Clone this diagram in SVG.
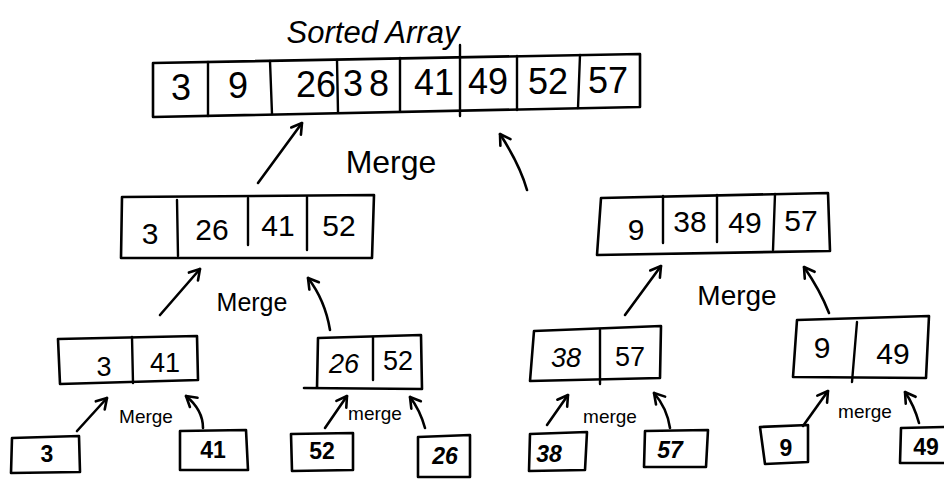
<svg xmlns="http://www.w3.org/2000/svg" width="944" height="481" viewBox="0 0 944 481">
<style>
.bx{fill:none;stroke:#000;stroke-width:2.6;stroke-linejoin:round;stroke-linecap:round}
.dv{stroke:#000;stroke-width:2.4;stroke-linecap:round}
text{font-family:"Liberation Sans",Arial,sans-serif;fill:#000;text-anchor:middle}
.n1{font-size:36px}
.n2{font-size:30px}
.n3{font-size:27px}
.n4{font-size:23px;font-weight:bold}
.m1{font-size:32px}
.m2{font-size:28px}
.m3{font-size:19px}
.cn{fill:none;stroke:#000;stroke-width:2.6;stroke-linecap:round;marker-end:url(#ah)}
</style>
<defs>
<marker id="ah" markerUnits="userSpaceOnUse" markerWidth="16" markerHeight="16" refX="12" refY="7" orient="auto" viewBox="0 0 16 14">
<path d="M2,1 L12,7 L2,13" fill="none" stroke="#000" stroke-width="2.6" stroke-linecap="round" stroke-linejoin="round"/>
</marker>
</defs>
<rect width="944" height="481" fill="#fff"/>
<text x="373" y="43" style="font-size:31px;font-style:italic">Sorted  Array</text>
<g id="top">
<path class="bx" d="M153,63 L640,54 L640,107 L153,117 Z"/>
<line class="dv" x1="208" y1="62" x2="208" y2="116"/>
<line class="dv" x1="270" y1="61" x2="272" y2="114"/>
<line class="dv" x1="337" y1="60" x2="338" y2="112"/>
<line class="dv" x1="400" y1="58" x2="400" y2="111"/>
<line class="dv" x1="460" y1="45" x2="460" y2="116"/>
<line class="dv" x1="517" y1="56" x2="517" y2="110"/>
<line class="dv" x1="580" y1="55" x2="578" y2="108"/>
<text class="n1" x="181" y="100">3</text>
<text class="n1" x="238" y="98">9</text>
<text class="n1" x="316" y="97">26</text>
<text class="n1" x="369" y="96" style="letter-spacing:6px">38</text>
<text class="n1" x="434" y="95">41</text>
<text class="n1" x="488" y="94">49</text>
<text class="n1" x="548" y="94">52</text>
<text class="n1" x="608" y="93">57</text>
</g>
<g id="l1a">
<path class="bx" d="M122,197 L374,195 L372,258 L121,258 Z"/>
<line class="dv" x1="177" y1="200" x2="178" y2="256"/>
<line class="dv" x1="248" y1="198" x2="248" y2="245"/>
<line class="dv" x1="307" y1="197" x2="307" y2="250"/>
<text class="n2" x="150" y="244">3</text>
<text class="n2" x="212" y="240">26</text>
<text class="n2" x="278" y="236">41</text>
<text class="n2" x="339" y="236">52</text>
</g>
<g id="l1b">
<path class="bx" d="M601,198 L828,193 L830,251 L597,255 Z"/>
<line class="dv" x1="663" y1="196" x2="663" y2="243"/>
<line class="dv" x1="717" y1="195" x2="717" y2="242"/>
<line class="dv" x1="775" y1="194" x2="773" y2="250"/>
<text class="n2" x="636" y="240">9</text>
<text class="n2" x="690" y="232">38</text>
<text class="n2" x="745" y="233">49</text>
<text class="n2" x="801" y="231">57</text>
</g>
<g id="l2a">
<path class="bx" d="M58,339 L197,336 L198,380 L60,384 Z"/>
<line class="dv" x1="132" y1="337" x2="133" y2="383"/>
<text class="n3" x="104" y="376">3</text>
<text class="n3" x="165" y="372">41</text>
</g>
<g id="l2b">
<path class="bx" d="M318,338 L421,335 L422,389 L304,388 M318,338 L317,388"/>
<line class="dv" x1="373" y1="337" x2="373" y2="380"/>
<text class="n3" x="344" y="373" style="font-style:italic">26</text>
<text class="n3" x="398" y="370">52</text>
</g>
<g id="l2c">
<path class="bx" d="M534,331 L661,326 L660,378 L530,381 Z"/>
<line class="dv" x1="600" y1="330" x2="600" y2="384"/>
<text class="n3" x="566" y="367" style="font-style:italic">38</text>
<text class="n3" x="630" y="366">57</text>
</g>
<g id="l2d">
<path class="bx" d="M797,320 L929,316 L926,378 L793,377 Z"/>
<line class="dv" x1="857" y1="322" x2="852" y2="382"/>
<text class="n2" x="822" y="358">9</text>
<text class="n2" x="893" y="364">49</text>
</g>
<g id="lf1">
<path class="bx" d="M12,438 L79,436 L80,472 L11,473 Z"/>
<text class="n4" x="47" y="462">3</text>
</g>
<g id="lf2">
<path class="bx" d="M180,431 L246,430 L248,470 L180,470 Z"/>
<text class="n4" x="213" y="458">41</text>
</g>
<g id="lf3">
<path class="bx" d="M291,434 L353,433 L353,470 L292,471 Z"/>
<text class="n4" x="322" y="459">52</text>
</g>
<g id="lf4">
<path class="bx" d="M418,437 L470,435 L470,477 L418,477 Z"/>
<text class="n4" x="445" y="464" style="font-style:italic">26</text>
</g>
<g id="lf5">
<path class="bx" d="M530,434 L587,432 L585,470 L529,471 Z"/>
<text class="n4" x="549" y="462" style="font-style:italic">38</text>
</g>
<g id="lf6">
<path class="bx" d="M645,431 L708,430 L706,467 L644,467 Z"/>
<text class="n4" x="670" y="458" style="font-style:italic">57</text>
</g>
<g id="lf7">
<path class="bx" d="M760,427 L808,425 L808,462 L765,464 Z"/>
<text class="n4" x="786" y="456">9</text>
</g>
<g id="lf8">
<path class="bx" d="M901,428 L944,427 M901,428 L900,463 L944,463"/>
<text class="n4" x="926" y="455">49</text>
</g>
<g id="labels">
<text class="m1" x="391" y="173">Merge</text>
<text class="m2" x="252" y="311" style="font-size:25px">Merge</text>
<text class="m2" x="737" y="305">Merge</text>
<text class="m3" x="146" y="423">Merge</text>
<text class="m3" x="375" y="420">merge</text>
<text class="m3" x="610" y="423">merge</text>
<text class="m3" x="865" y="418">merge</text>
</g>
<g id="connectors">
<path class="cn" d="M258,183 L302,123"/>
<path class="cn" d="M527,190 Q520,165 500,134"/>
<path class="cn" d="M160,315 L200,269"/>
<path class="cn" d="M330,330 Q325,300 308,278"/>
<path class="cn" d="M625,315 L661,266"/>
<path class="cn" d="M829,313 Q820,290 804,267"/>
<path class="cn" d="M77,431 L107,398"/>
<path class="cn" d="M203,428 Q203,410 186,396"/>
<path class="cn" d="M325,428 L347,396"/>
<path class="cn" d="M425,428 Q420,410 410,397"/>
<path class="cn" d="M547,425 L568,395"/>
<path class="cn" d="M670,428 Q667,408 654,393"/>
<path class="cn" d="M803,426 L828,391"/>
<path class="cn" d="M919,423 Q914,405 905,392"/>
</g>
</svg>
